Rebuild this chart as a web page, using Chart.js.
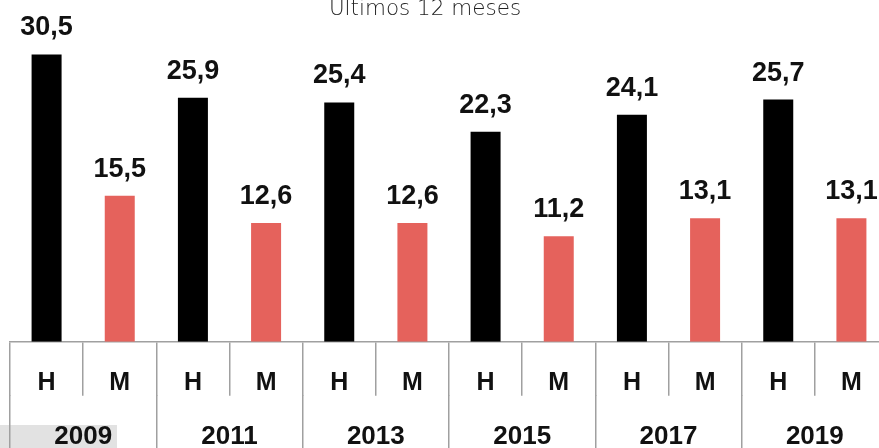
<!DOCTYPE html>
<html>
<head>
<meta charset="utf-8">
<script src="https://cdn.jsdelivr.net/npm/chart.js@4/dist/chart.umd.min.js"></script>
<style>
  html, body { margin: 0; padding: 0; background: #fff; overflow: hidden; }
  #wrap { position: relative; width: 890px; height: 450px; }
  #titulo {
    position: absolute; left: 0; top: -3px; width: 850px; text-align: center;
    font-family: "DejaVu Sans", sans-serif; font-weight: 200; font-size: 21.5px;
    line-height: 21px; color: #222;
  }
  #fuente { position: absolute; left: 0; top: 425px; width: 117px; height: 30px; background: #e2e2e2; }
  #grafico { position: absolute; left: 0; top: 0; }
</style>
</head>
<body>
<div id="wrap">
  <div id="fuente"></div>
  <canvas id="grafico" width="890" height="450"></canvas>
  <div id="titulo">Últimos 12 meses</div>
</div>
<script>
"use strict";

var years = ["2009", "2011", "2013", "2015", "2017", "2019"];
var sexos = ["H", "M"];
var hombres = [30.5, 25.9, 25.4, 22.3, 24.1, 25.7];
var mujeres = [15.5, 12.6, 12.6, 11.2, 13.1, 13.1];

var colorH = "#000000";
var colorM = "#e5625c";
var gris = "#a0a0a0";
var fuenteBold = "'Liberation Sans', Arial, sans-serif";

// one bar per sex and year, H first
let labels = [];
let values = [];
let colors = [];
years.forEach((y, idx) => {
  labels.push(sexos[0], sexos[1]);
  values.push(hombres[idx], mujeres[idx]);
  colors.push(colorH, colorM);
});

function formatoComa(v) {
  return v.toFixed(1).replace(".", ",");
}

var valueLabels = {
  id: "valueLabels",
  afterDatasetsDraw: function (chart) {
    let ctx = chart.ctx;
    let meta = chart.getDatasetMeta(0);
    ctx.save();
    ctx.font = "bold 27px " + fuenteBold;
    ctx.fillStyle = "#111";
    ctx.textAlign = "center";
    ctx.textBaseline = "alphabetic";
    meta.data.forEach((bar, idx) => {
      ctx.fillText(formatoComa(values[idx]), bar.x, bar.y - 19);
    });
    ctx.restore();
  },
};

// the blank axis titles only make room so the labels can sit between the tick lines
new Chart(document.getElementById("grafico"), {
  type: "bar",
  data: {
    labels: labels,
    datasets: [
      {
        data: values,
        backgroundColor: colors,
        xAxisID: "x",
        yAxisID: "y",
        categoryPercentage: 1,
        barPercentage: 0.41,
      },
    ],
  },
  options: {
    responsive: false,
    animation: false,
    events: [],
    layout: {
      padding: { left: 10, right: 2, top: 21.4, bottom: 0 },
    },
    plugins: {
      legend: { display: false },
      title: { display: false },
      tooltip: { enabled: false },
    },
    scales: {
      y: {
        display: false,
        min: 0,
        max: 34,
      },
      x: {
        type: "category",
        position: "bottom",
        weight: 0,
        offset: true,
        border: { display: true, color: gris, width: 1.5 },
        grid: {
          offset: true,
          drawOnChartArea: false,
          color: gris,
          lineWidth: 1.5,
          tickLength: 54,
        },
        title: {
          display: true,
          text: " ",
          font: { size: 10 },
          padding: { top: 0, bottom: 13 },
        },
        ticks: {
          autoSkip: false,
          maxRotation: 0,
          padding: -28,
          color: "#111",
          font: { family: fuenteBold, size: 25, weight: "bold" },
        },
      },
      x2: {
        type: "category",
        labels: years,
        position: "bottom",
        weight: 1,
        offset: true,
        border: { display: false },
        grid: {
          offset: true,
          drawOnChartArea: false,
          color: gris,
          lineWidth: 1.5,
          tickLength: 60,
        },
        title: {
          display: true,
          text: " ",
          font: { size: 10 },
          padding: { top: 0, bottom: 20 },
        },
        ticks: {
          autoSkip: false,
          maxRotation: 0,
          padding: -34,
          color: "#111",
          font: { family: fuenteBold, size: 26, weight: "bold" },
        },
      },
    },
  },
  plugins: [valueLabels],
});
</script>
</body>
</html>
